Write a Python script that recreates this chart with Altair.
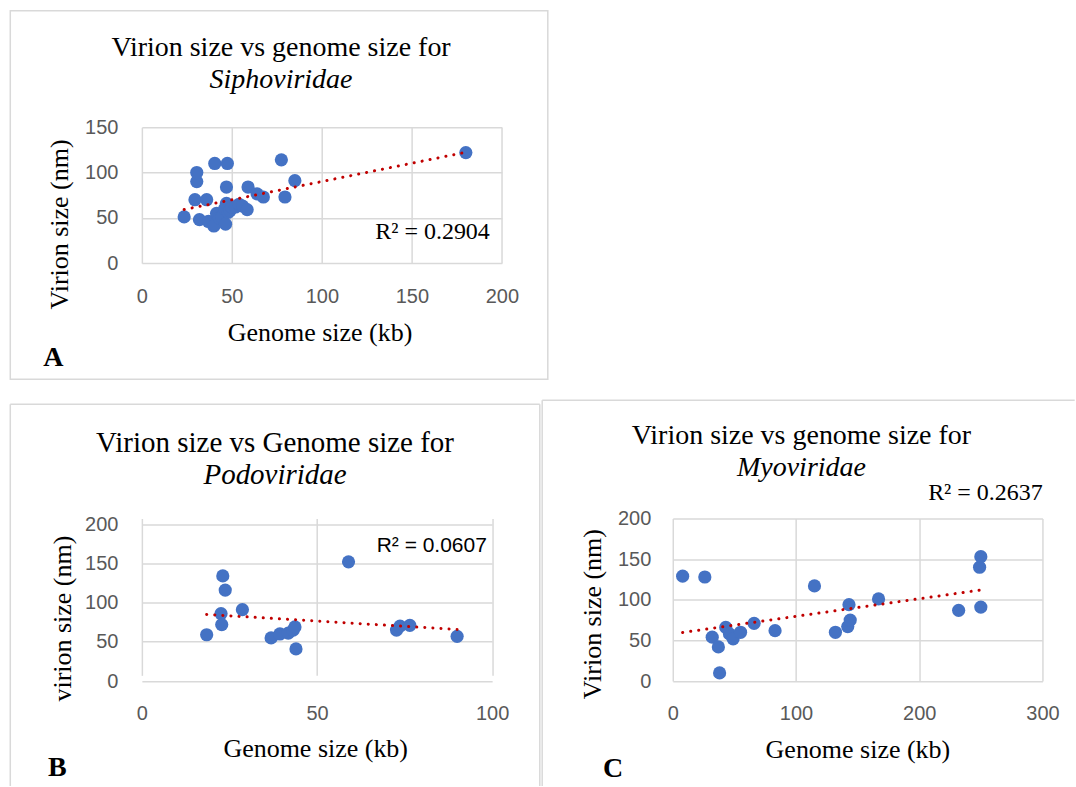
import altair as alt
import pandas as pd

# Genome size (kb) and virion size (nm) for each phage family
SIPHO_GENOME_KB = [23.5, 29.5, 30.5, 30.5, 32, 36, 37, 40, 40.5, 41.5, 43, 44.5, 46, 46.5, 47,
                   47.5, 47, 48, 49, 50, 52, 54, 56, 58.5, 59, 64, 67.5, 77.5, 79.5, 85, 180]
SIPHO_VIRION_NM = [51, 70, 90, 100, 48, 70, 46, 41, 110, 55, 50, 51, 60, 43, 84,
                   110, 66, 56, 58, 62, 62, 65, 63, 59, 84, 76.5, 73, 114, 73, 91, 122]

PODO_GENOME_KB = [18.5, 22.6, 22.8, 23.1, 23.8, 28.7, 36.9, 39.4, 41.8, 43.2, 43.7, 44, 59,
                  72.7, 73.7, 76.5, 90]
PODO_VIRION_NM = [59, 86, 72, 134, 116, 91, 55, 60, 61, 65, 69, 41, 152,
                  65, 70, 71, 57]

MYO_GENOME_KB = [8, 26, 32, 37, 38, 43, 46, 49, 55, 66, 83, 115, 132, 142, 144, 143, 167,
                 232, 249, 250, 250]
MYO_VIRION_NM = [129, 128, 54, 42, 10, 66, 58, 52, 60, 71, 62, 117, 60, 67, 75, 94, 101,
                 87, 140, 153, 91]

# Axis ticks
SIPHO_X_TICKS = [0, 50, 100, 150, 200]
SIPHO_Y_TICKS = [0, 50, 100, 150]
PODO_X_TICKS = [0, 50, 100]
PODO_Y_TICKS = [0, 50, 100, 150, 200]
MYO_X_TICKS = [0, 100, 200, 300]
MYO_Y_TICKS = [0, 50, 100, 150, 200]

# Texts
TITLE_LINES = [
    ("Virion size vs genome size for", "Siphoviridae"),
    ("Virion size vs Genome size for", "Podoviridae"),
    ("Virion size vs genome size for", "Myoviridae"),
]
Y_TITLES = ["Virion size (nm)", "virion size (nm)", "Virion size (nm)"]
X_TITLE = "Genome size (kb)"
R2_LABELS = ["R² = 0.2904", "R² = 0.0607", "R² = 0.2637"]
PANEL_LETTERS = ["A", "B", "C"]

SERIF = "Liberation Serif"
SANS = "Liberation Sans"
GRID = "#d9d9d9"
BOX = "#d9d9d9"
DOT = "#4472C4"
TREND = "#C00000"


def text_layer(txt, x, y, size, font=SERIF, style="normal", weight="normal",
               align="center", angle=0, baseline="alphabetic", color="black"):
    return alt.Chart(pd.DataFrame({"t": [txt]})).mark_text(
        font=font, fontSize=size, fontStyle=style, fontWeight=weight,
        align=align, angle=angle, baseline=baseline, color=color,
    ).encode(x=alt.value(x), y=alt.value(y), text="t:N")


def hrule(x1, x2, y):
    return alt.Chart(pd.DataFrame({"k": [0]})).mark_rule(
        color=BOX, strokeWidth=1.5
    ).encode(x=alt.value(x1), x2=alt.value(x2), y=alt.value(y))


def vrule(x, y1, y2):
    return alt.Chart(pd.DataFrame({"k": [0]})).mark_rule(
        color=BOX, strokeWidth=1.5
    ).encode(x=alt.value(x), y=alt.value(y1), y2=alt.value(y2))


def scatter_panel(gx, vy, xdom, xticks, ydom, yticks, w, h, extras, yrange=None,
                  ylabel_pad=24):
    df = pd.DataFrame({"g": gx, "v": vy})
    axis_common = dict(
        title=None, grid=True, gridColor=GRID, gridWidth=1.5, domain=False,
        ticks=False, labelFont=SANS, labelFontSize=20, labelColor="#595959",
        labelFlush=False, labelOverlap=False,
    )
    yscale_kw = dict(domain=ydom, nice=False, zero=False)
    if yrange is not None:
        yscale_kw["range"] = yrange
    x_enc = alt.X("g:Q", scale=alt.Scale(domain=xdom, nice=False, zero=False),
                  axis=alt.Axis(values=xticks, labelPadding=23, **axis_common))
    y_enc = alt.Y("v:Q", scale=alt.Scale(**yscale_kw),
                  axis=alt.Axis(values=yticks, labelPadding=ylabel_pad, **axis_common))
    pts = alt.Chart(df).mark_circle(size=175, color=DOT, opacity=1).encode(x=x_enc, y=y_enc)
    trend = alt.Chart(df).transform_regression("g", "v").mark_line(
        color=TREND, strokeWidth=3, strokeDash=[0.1, 8], strokeCap="round"
    ).encode(x="g:Q", y="v:Q")
    return alt.layer(pts, trend, *extras).properties(width=w, height=h)


# Panel A: plot area origin at (141.7, 126.7)
a_extras = [
    alt.Chart(pd.DataFrame({"k": [0]})).mark_rect(
        fillOpacity=0, stroke=BOX, strokeWidth=1.5
    ).encode(x=alt.value(-131.7), x2=alt.value(406.3), y=alt.value(-116.7), y2=alt.value(252.3)),
    text_layer(TITLE_LINES[0][0], 139.3, -71.7, 28),
    text_layer(TITLE_LINES[0][1], 139.3, -39.7, 28, style="italic"),
    text_layer(Y_TITLES[0], -81.7, 97.3, 26, angle=270, baseline="middle"),
    text_layer(X_TITLE, 178.3, 214.3, 26),
    text_layer(PANEL_LETTERS[0], -88.7, 239.3, 28, weight="bold"),
    text_layer(R2_LABELS[0], 348.3, 111.6, 24, align="right"),
]
panel_a = scatter_panel(SIPHO_GENOME_KB, SIPHO_VIRION_NM, [0, 200], SIPHO_X_TICKS,
                        [0, 150], SIPHO_Y_TICKS, 360.3, 136, a_extras)

# Panel B: plot area origin at (141.7, 518.3), value axis starts 5.7 px lower
b_extras = [
    vrule(-131.7, -114.3, 267.7),
    vrule(398.3, -114.3, 267.7),
    hrule(-131.7, 398.3, -114.3),
    text_layer(TITLE_LINES[1][0], 133.3, -66.8, 29),
    text_layer(TITLE_LINES[1][1], 133.3, -34.3, 29, style="italic"),
    text_layer(Y_TITLES[1], -79.2, 100.2, 26, angle=270, baseline="middle"),
    text_layer(X_TITLE, 174, 238.7, 26),
    text_layer(PANEL_LETTERS[1], -84.7, 257.7, 28, weight="bold"),
    text_layer(R2_LABELS[1], 345.3, 33.4, 21, font=SANS, align="right"),
]
panel_b = scatter_panel(PODO_GENOME_KB, PODO_VIRION_NM, [0, 100], PODO_X_TICKS,
                        [0, 200], PODO_Y_TICKS, 350.6, 162.7, b_extras,
                        yrange=[162.7, 5.7])

# Panel C: plot area origin at (672.7, 518.3)
c_extras = [
    vrule(-130.7, -118.3, 267.7),
    hrule(-130.7, 402.3, -118.3),
    text_layer(TITLE_LINES[2][0], 128.8, -74.3, 28),
    text_layer(TITLE_LINES[2][1], 128.8, -42.3, 28, style="italic"),
    text_layer(R2_LABELS[2], 370.3, -18.3, 24, align="right"),
    text_layer(Y_TITLES[2], -79.7, 95.7, 26, angle=270, baseline="middle"),
    text_layer(X_TITLE, 185.3, 239.7, 26),
    text_layer(PANEL_LETTERS[2], -59.7, 258.7, 28, weight="bold"),
]
panel_c = scatter_panel(MYO_GENOME_KB, MYO_VIRION_NM, [0, 300], MYO_X_TICKS,
                        [0, 200], MYO_Y_TICKS, 370, 162.7, c_extras, ylabel_pad=22)

bottom = alt.hconcat(panel_b, panel_c, spacing=180.4, bounds="flush")
chart = alt.vconcat(panel_a, bottom, spacing=255.6, bounds="flush").properties(
    padding={"left": 9, "top": 9, "right": 0, "bottom": 0},
    background="white",
).configure_view(strokeWidth=0)

chart.save("out.html", embed_options={"renderer": "svg", "actions": False})
